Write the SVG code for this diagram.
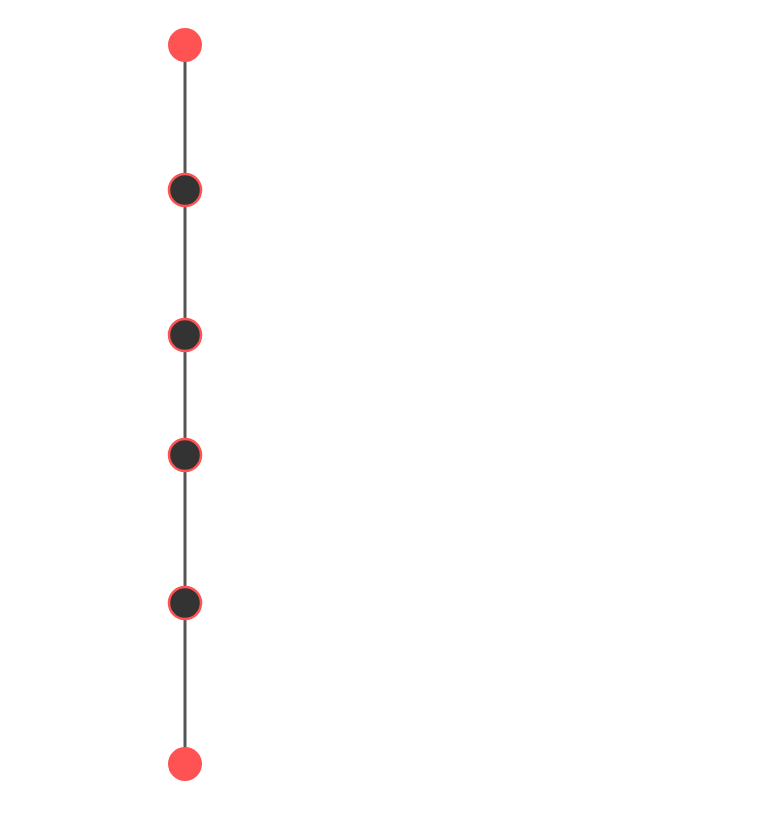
<svg xmlns="http://www.w3.org/2000/svg" width="768" height="837" viewBox="0 0 768 837">
<style>
.edge{stroke:#555555;stroke-width:3;fill:none}
.end{fill:#ff5252}
.mid{fill:#333333;stroke:#ff5252;stroke-width:2.5}
</style>
<rect width="768" height="837" fill="#ffffff"/>
<g id="connectors">
<line class="edge" x1="185" y1="45" x2="185" y2="190"/>
<line class="edge" x1="185" y1="190" x2="185" y2="335"/>
<line class="edge" x1="185" y1="335" x2="185" y2="455"/>
<line class="edge" x1="185" y1="455" x2="185" y2="603"/>
<line class="edge" x1="185" y1="603" x2="185" y2="764"/>
</g>
<g id="n1"><circle class="end" cx="185" cy="45" r="17"/></g>
<g id="n2"><circle class="mid" cx="185" cy="190" r="16"/></g>
<g id="n3"><circle class="mid" cx="185" cy="335" r="16"/></g>
<g id="n4"><circle class="mid" cx="185" cy="455" r="16"/></g>
<g id="n5"><circle class="mid" cx="185" cy="603" r="16"/></g>
<g id="n6"><circle class="end" cx="185" cy="764" r="17"/></g>
</svg>
